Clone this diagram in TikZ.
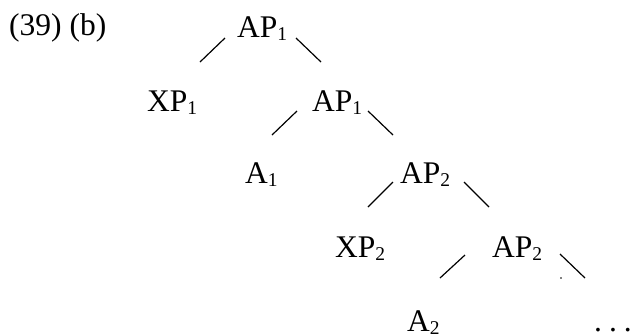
\documentclass[tikz,border=0pt]{standalone}
\usepackage{fontspec}
\setmainfont{Liberation Serif}
\newcommand\subs[1]{\raisebox{-3pt}{\fontsize{19.5}{19.5}\selectfont #1}}
\tikzset{
  lab/.style={anchor=base west, inner sep=0pt, font=\fontsize{31.5}{33}\selectfont},
  edge/.style={line width=1.2pt}
}
\begin{document}
\begin{tikzpicture}[x=1pt,y=-1pt]
\useasboundingbox (0,0) rectangle (630,333);
\node[lab] (ex)   at (9,35)  {(39) (b)};
\node[lab] (AP1)  at (237,37) {AP\subs{1}};
\node[lab] (XP1)  at (147,111) {XP\subs{1}};
\node[lab] (AP1b) at (312,111) {AP\subs{1}};
\node[lab] (A1)   at (245,183) {A\subs{1}};
\node[lab] (AP2a) at (400,183) {AP\subs{2}};
\node[lab] (XP2)  at (335,257) {XP\subs{2}};
\node[lab] (AP2b) at (492,257) {AP\subs{2}};
\node[lab] (A2)   at (407,331) {A\subs{2}};
\node[lab] (dots) at (594,331) {.\kern7pt.\kern7pt.};
% branches
\draw[edge] ([shift={(-12,1)}]AP1.base west) -- ++(-25,24);
\draw[edge] ([shift={(59,1)}]AP1.base west) -- ++(25,24);
\draw[edge] ([shift={(-15,0)}]AP1b.base west) -- ++(-25,24);
\draw[edge] ([shift={(56,0)}]AP1b.base west) -- ++(25,24);
\draw[edge] ([shift={(-7,-1)}]AP2a.base west) -- ++(-25,25);
\draw[edge] ([shift={(64,-1)}]AP2a.base west) -- ++(25,25);
\draw[edge] ([shift={(-27,-2)}]AP2b.base west) -- ++(-25,23);
\draw[edge] ([shift={(68,-3)}]AP2b.base west) -- ++(25,24);
\fill ([shift={(69,21)}]AP2b.base west) circle (0.8);
\end{tikzpicture}
\end{document}
